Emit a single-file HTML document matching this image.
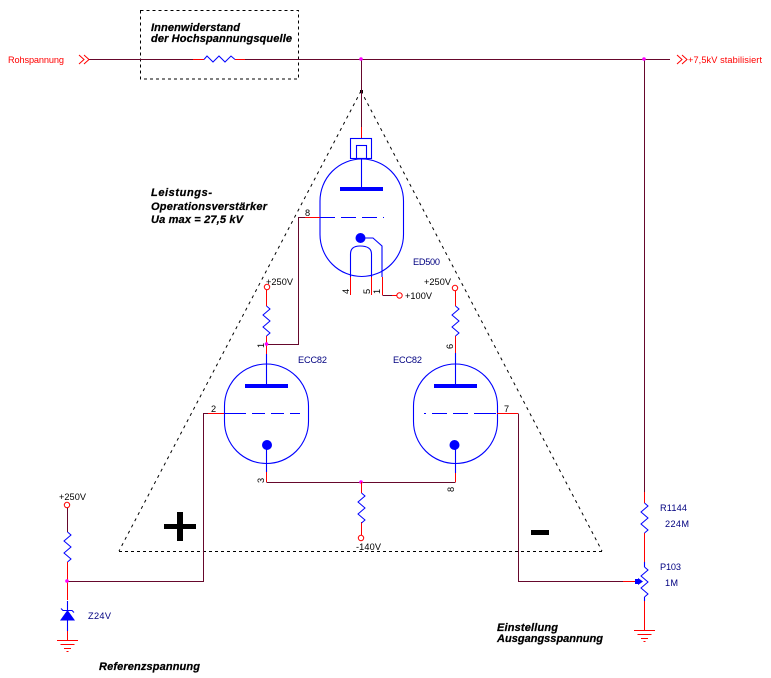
<!DOCTYPE html>
<html><head><meta charset="utf-8"><style>
html,body{margin:0;padding:0;background:#fff;width:771px;height:678px;overflow:hidden}
svg{display:block}
text{font-family:"Liberation Sans",sans-serif;font-size:9.2px}
.b{font-weight:bold;font-style:italic;fill:#000;stroke:#000;stroke-width:.25;font-size:11px}
.n{fill:#000080}.r{fill:#f00}.k{fill:#000}
.w{stroke:#66082c;stroke-width:1;fill:none;shape-rendering:crispEdges}
.d{stroke:#f00;stroke-width:1;fill:none;shape-rendering:crispEdges}
.t{stroke:#00f;stroke-width:1;fill:none}
.e{stroke:#00f;stroke-width:1.1;fill:none}
.c{stroke:#f00;stroke-width:1;fill:#fff}
.j{fill:#f0f}
</style></head><body>
<svg width="771" height="678" viewBox="0 0 771 678" xmlns="http://www.w3.org/2000/svg">
<defs>
<polyline id="z" class="t" points="0,0 3.5,3 -3.5,9 3.5,15 -3.5,21 3.5,27 0,30"/>
<g id="gnd" class="d"><path d="M-10.5,0.5H10.5M-7,4.5H7M-3.5,8.5H3.5M-1,11.5H1"/></g>
</defs>

<!-- dashed outlines -->
<rect x="140.5" y="10.5" width="158" height="68.5" fill="none" stroke="#000" stroke-dasharray="3 3" shape-rendering="crispEdges"/>
<path d="M361,91L119,551" fill="none" stroke="#000" stroke-width="1" stroke-dasharray="3 4"/>
<path d="M361,91L602,551" fill="none" stroke="#000" stroke-width="1" stroke-dasharray="3 4"/>
<path d="M119,551.5H602" fill="none" stroke="#000" stroke-dasharray="3 3" shape-rendering="crispEdges"/>
<rect x="360" y="90" width="3" height="3" fill="#000"/>

<!-- main rail -->
<path class="w" d="M89,59.5H193M245,59.5H670"/>
<path class="d" d="M193,59.5H204M235,59.5H245"/>
<polyline class="t" points="204,59.5 207,56 213,62 219,56 225,62 231,56 235,59.5"/>
<path stroke="#f00" fill="none" d="M79,55L84,59.5L79,64M84,55L89,59.5L84,64M677,55L682,59.5L677,64M682,55L687,59.5L682,64"/>

<!-- rail to ED500 -->
<path class="w" d="M361.5,59V127"/>
<path class="d" d="M361.5,127V138"/>

<!-- ED500 -->
<rect class="e" x="320" y="159" width="83.5" height="117.5" rx="42" ry="42"/>
<rect class="e" x="350.5" y="138.5" width="21" height="20"/>
<rect class="e" x="356.5" y="145.5" width="10" height="13"/>
<path class="e" d="M361.5,159V187"/>
<rect x="340" y="187" width="43" height="4" fill="#00f"/>
<path d="M320,217.5H384" stroke="#00f" fill="none" stroke-dasharray="15 6" shape-rendering="crispEdges"/>
<circle cx="360.5" cy="238" r="5" fill="#00f"/>
<path class="e" d="M365,238H373L382,246V277M350.5,277V254Q350.5,246 360,246Q371.5,246 371.5,254V277"/>
<path class="d" d="M350.5,277V295M371.5,277V295M382.5,277V295"/>
<path class="w" d="M382.5,295.5H392"/>
<path class="d" d="M392,295.5H397"/>
<circle class="c" cx="399.5" cy="295.5" r="2.7"/>

<!-- grid ED500 wire -->
<path class="w" d="M267,344.5H298.5V217.5H305"/>
<path class="d" d="M305,217.5H320"/>

<!-- left anode branch -->
<circle class="c" cx="267" cy="287" r="2.7"/>
<path class="d" d="M266.5,290V306M266.5,336V354"/>
<use href="#z" x="266.5" y="306"/>
<circle class="j" cx="266.5" cy="344" r="1.8"/>
<path class="e" d="M266.5,354V385"/>

<!-- left tube -->
<rect class="e" x="224.5" y="364" width="84" height="99.5" rx="42" ry="42"/>
<rect x="245" y="384" width="43" height="4" fill="#00f"/>
<path d="M224,413.5H300" stroke="#00f" fill="none" stroke-dasharray="22 6 13 6 13 6" shape-rendering="crispEdges"/>
<circle cx="267" cy="445" r="5" fill="#00f"/>
<path class="e" d="M266.5,445V472"/>
<path class="d" d="M266.5,472V482"/>

<!-- right anode branch -->
<circle class="c" cx="455" cy="288" r="2.7"/>
<path class="d" d="M455.5,291V306M455.5,336V353"/>
<use href="#z" x="455.5" y="306"/>
<path class="e" d="M455.5,353V385"/>

<!-- right tube -->
<rect class="e" x="413.5" y="364" width="84" height="99.5" rx="42" ry="42"/>
<rect x="434" y="384" width="43" height="4" fill="#00f"/>
<path d="M424,413.5H497" stroke="#00f" fill="none" stroke-dasharray="2 6 15 6 15 6 22" shape-rendering="crispEdges"/>
<circle cx="454.5" cy="445" r="5" fill="#00f"/>
<path class="e" d="M455.5,445V473"/>
<path class="d" d="M455.5,473V482"/>

<!-- cathode rail -->
<path class="w" d="M266.5,482.5H455.5"/>
<circle class="j" cx="361" cy="482" r="1.8"/>
<path class="d" d="M361.5,482V493M361.5,522V535"/>
<use href="#z" x="361.5" y="493"/>
<circle class="c" cx="361" cy="538" r="2.7"/>

<!-- left input -->
<path class="d" d="M497,413.5H518"/>
<path class="d" d="M204,413.5H224"/>
<path class="w" d="M67,581.5H203.5V413.5H208"/>
<circle class="c" cx="67" cy="505" r="2.7"/>
<path class="w" d="M67.5,508V532"/>
<use href="#z" x="67.5" y="532"/>
<path class="d" d="M67.5,562V581M67.5,581V600"/>
<circle class="j" cx="67" cy="581" r="1.8"/>
<path class="e" d="M67.5,601V631"/>
<path d="M60,620.5H75L67.5,610Z" fill="#00f"/>
<path class="e" d="M61,608.5L63,610.5H72L74,612.5"/>
<path class="d" d="M67.5,631V640"/>
<use href="#gnd" x="67.5" y="640"/>

<!-- right output -->
<path class="w" d="M518.5,413.5V581.5H623"/>
<path class="d" d="M623,581.5H635"/>
<rect x="635" y="579" width="4" height="5" fill="#00f"/>
<path d="M638,578L643,581.5L638,585Z" fill="#00f"/>
<path class="w" d="M644.5,59V492"/>
<path class="d" d="M644.5,492V503M644.5,533V562"/>
<use href="#z" x="644.5" y="503"/>
<circle class="j" cx="644" cy="59" r="1.8"/>
<path class="e" d="M644.5,562V567"/>
<use href="#z" x="644.5" y="567"/>
<path class="e" d="M644.5,597V601"/>
<path class="d" d="M644.5,601V630"/>
<use href="#gnd" x="644.5" y="630"/>
<circle class="j" cx="361" cy="59" r="1.8"/>

<!-- plus / minus -->
<rect x="164" y="524" width="32" height="5" fill="#000"/>
<rect x="177" y="512" width="6" height="29" fill="#000"/>
<rect x="531" y="530" width="18" height="5" fill="#000"/>

<!-- labels -->
<text class="r" x="8" y="63" textLength="56">Rohspannung</text>
<text class="r" x="688" y="63" textLength="74">+7,5kV stabilisiert</text>
<text class="b" x="151" y="31" textLength="89">Innenwiderstand</text>
<text class="b" x="151" y="42" textLength="141">der Hochspannungsquelle</text>
<text class="b" x="151" y="196" textLength="61">Leistungs-</text>
<text class="b" x="151" y="210" textLength="116">Operationsverstärker</text>
<text class="b" x="151" y="223" textLength="92">Ua max = 27,5 kV</text>
<text class="b" x="99" y="670" textLength="101">Referenzspannung</text>
<text class="b" x="497" y="631" textLength="61">Einstellung</text>
<text class="b" x="497" y="642" textLength="106">Ausgangsspannung</text>

<text class="n" x="298" y="363" textLength="29">ECC82</text>
<text class="n" x="393" y="363" textLength="29">ECC82</text>
<text class="n" x="413" y="265" textLength="27">ED500</text>
<text class="n" x="88" y="619" textLength="23">Z24V</text>
<text class="n" x="660" y="511" textLength="27">R1144</text>
<text class="n" x="665" y="527" textLength="24">224M</text>
<text class="n" x="660" y="570" textLength="21">P103</text>
<text class="n" x="665" y="586" textLength="13">1M</text>

<text class="k" x="266" y="285" textLength="27">+250V</text>
<text class="k" x="424" y="285" textLength="27">+250V</text>
<text class="k" x="405" y="299" textLength="27">+100V</text>
<text class="k" x="59" y="500" textLength="27">+250V</text>
<text class="k" x="356" y="550" textLength="25">-140V</text>

<text class="k" x="305" y="216">8</text>
<text class="k" x="211" y="412">2</text>
<text class="k" x="504" y="412">7</text>
<text class="k" transform="translate(349,294) rotate(-90)">4</text>
<text class="k" transform="translate(370,294) rotate(-90)">5</text>
<text class="k" transform="translate(380,294) rotate(-90)">1</text>
<text class="k" transform="translate(264,348) rotate(-90)">1</text>
<text class="k" transform="translate(453,349) rotate(-90)">6</text>
<text class="k" transform="translate(264,483) rotate(-90)">3</text>
<text class="k" transform="translate(454,492) rotate(-90)">8</text>
</svg>
</body></html>
